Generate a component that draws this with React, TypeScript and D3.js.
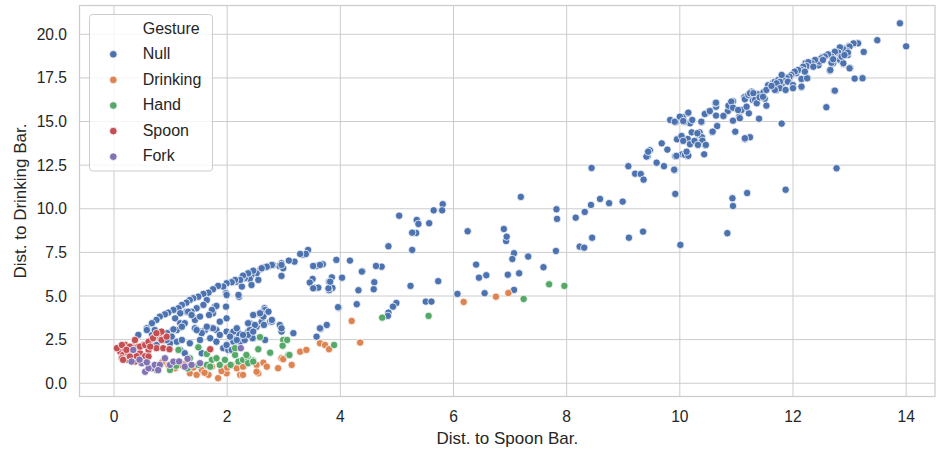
import React from "react";
import * as d3 from "d3";

type P = [number, number];

const gestures = ["Null", "Drinking", "Hand", "Spoon", "Fork"];
const colors = ["#4C72B0", "#DD8452", "#55A868", "#C44E52", "#8172B3"];
const xTicks = [0, 2, 4, 6, 8, 10, 12, 14];
const yTicks = [0, 2.5, 5, 7.5, 10, 12.5, 15, 17.5, 20];
const xLabel = "Dist. to Spoon Bar.";
const yLabel = "Dist. to Drinking Bar.";
const legendTitle = "Gesture";

const nullPts: P[] = [
  [13.89,20.63],[14.0,19.31],[13.49,19.66],[13.25,18.99],[13.09,17.46],[13.22,17.48],[13.01,18.05],[12.73,16.77],[12.59,15.82],[12.77,12.32],[11.80,14.88],[11.87,11.09],[11.19,10.9],[10.93,10.6],[10.94,10.16],[10.84,8.6],[10.01,7.93],[9.92,10.85],[9.91,12.22],[9.72,12.44],[9.59,12.64],[9.09,12.44],[9.21,12.01],[9.31,11.99],[9.36,11.67],[9.43,12.99],[9.47,13.35],[9.68,13.75],[9.78,13.39],[9.83,15.09],[9.93,14.97],[10.06,15.26],[10.15,15.47],[10.18,14.9],[10.08,14.99],[9.95,13.98],[10.04,13.12],[10.13,13.03],[9.92,13.01],[10.14,14.0],[10.21,14.38],[10.26,13.85],[10.34,14.23],[10.35,14.38],[10.39,14.1],[10.45,13.64],[10.43,13.12],[10.33,13.75],
  [10.39,14.97],[10.46,15.47],[10.51,15.56],[10.64,15.34],[10.64,15.85],[10.63,16.05],[10.57,14.4],[10.66,14.74],[10.78,15.34],[10.85,15.6],[10.86,15.91],[10.94,16.16],[10.94,15.05],[10.98,14.42],[11.05,15.28],[11.09,15.66],[11.14,16.39],[11.15,13.98],[11.24,14.1],[11.22,15.47],[11.29,16.23],[11.27,16.71],[11.38,16.56],[11.4,15.16],[11.48,16.68],[11.53,15.91],[11.5,16.31],[11.56,17.08],[11.65,17.23],[11.73,17.36],[11.8,17.65],[11.81,17.19],[11.9,17.31],[11.94,17.51],[12.0,16.96],[12.06,17.77],[12.15,17.42],[12.18,18.05],[12.26,17.48],[12.15,16.96],[12.22,18.34],[12.3,18.18],[12.37,18.41],[12.45,18.22],[12.52,18.7],[12.47,18.51],[12.64,18.85],[12.71,18.81],[12.79,18.93],[12.84,19.23],[12.94,19.2],[12.99,19.33],[13.08,19.46],[13.15,19.5],[12.65,17.91],[12.83,18.53],[12.89,18.3],[12.97,18.81],[12.71,18.34],
  [9.9,12.24],[9.94,13.03],[10.09,13.09],[10.15,13.04],[10.12,13.27],[10.03,14.17],[10.06,13.89],[10.18,13.7],[10.26,13.89],[10.31,14.33],[10.4,13.9],[10.46,13.66],[10.32,13.66],[9.91,14.99],[10.0,15.28],[10.06,15.03],[10.15,15.51],[10.22,15.09],[10.38,14.99],[10.44,15.43],[10.53,15.6],[10.64,16.08],[10.58,14.42],[10.77,15.32],[10.91,16.14],[10.94,15.79],[11.03,15.66],[11.06,15.19],[11.15,16.28],[11.18,15.85],[11.21,16.52],[11.24,16.62],[11.3,16.62],[11.33,16.24],[11.36,16.05],[11.41,16.39],[11.47,16.42],[11.53,16.81],[11.65,17.09],[11.71,16.81],[11.68,17.28],[11.74,17.38],[11.15,14.04],
  [13.15,19.48],[13.07,19.48],[13.0,19.29],[12.96,19.04],[12.89,19.14],[12.83,19.25],[12.8,18.95],[12.74,19.0],[12.68,18.72],[12.62,18.85],[12.56,18.72],[12.5,18.62],[12.47,18.43],[12.39,18.53],[12.33,18.34],[12.27,18.4],[12.24,18.18],[12.18,18.14],[12.15,17.95],[12.09,17.95],[12.03,17.86],[11.97,17.67],[11.94,17.57],[11.89,17.48],[11.83,17.38],[11.77,17.28],[11.71,17.19],[11.8,17.67],[11.91,17.28],[12.0,17.09],[12.15,17.44],[12.25,17.48],[11.77,16.91],[11.68,16.81],[11.87,16.81],[12.0,16.91],[12.15,17.0],[13.0,18.05],[12.89,18.34],[12.68,18.37],[12.66,17.95],[12.86,18.72],[12.97,18.95],[13.23,17.48],[12.74,16.77],[11.62,17.04],[12.71,18.57],[12.53,18.53],[12.36,18.14],[12.21,17.86],[12.91,18.81],
  [8.44,12.34],[9.41,12.99],[9.44,13.27],[7.19,10.68],[8.59,10.56],[8.75,10.32],[8.99,10.41],[8.43,10.22],[8.32,9.82],[8.16,9.49],[7.82,9.97],[7.83,9.42],[8.45,8.34],[8.23,7.83],[8.31,7.77],[9.1,8.34],[9.35,8.69],[7.81,7.58],[7.59,6.65],[7.32,7.26],[7.07,7.45],[7.04,7.12],[6.93,8.15],[6.94,8.4],[6.89,8.84],[7.16,6.3],[6.96,6.22],[7.07,5.35],[6.55,5.16],[6.58,6.19],[6.45,6.05],[6.4,6.8],[6.25,8.71],[6.07,5.12],[5.81,10.26],[5.8,9.91],[5.65,9.91],[5.57,9.17],[5.35,9.36],[5.38,9.13],[5.34,8.61],[5.27,8.63],[5.27,7.64],[5.04,9.6],[4.85,7.85],[5.73,5.85],[5.24,5.58],[5.51,4.68],[5.61,4.68],[4.99,4.6],[4.93,4.39],[4.85,4.05],[4.84,3.86],[4.73,6.68],[4.63,6.72],[4.6,5.79],[4.59,5.39],[4.39,6.42],[4.32,5.33],[4.29,4.53],[4.17,7.03],[4.03,6.05],[3.97,4.33],[3.93,7.07],[3.85,6.07],[3.8,5.82],[3.86,5.46],[3.8,5.33],[3.69,6.82],[3.58,6.72],[3.52,6.72],[3.51,5.98],[3.46,5.77],[3.55,5.48],[3.61,5.48],[3.76,3.34],[3.65,3.11],[3.58,2.67],[3.43,7.64],[3.34,7.37],
  [3.39,7.41],[3.29,7.41],[3.19,6.97],[3.09,7.03],[2.96,6.88],[2.92,6.72],[2.99,6.59],[2.81,6.78],[2.74,6.72],[2.67,6.65],[2.59,6.53],[2.52,6.3],[2.43,6.21],[2.4,5.98],[2.31,6.02],[2.26,6.05],[2.17,5.82],[2.08,5.82],[2.55,5.92],[2.43,5.63],[2.26,5.54],[2.96,6.15],[2.21,4.96],[2.66,4.3],[3.52,5.44],
  [2.96,6.78],[2.79,6.78],[2.7,6.68],[2.61,6.59],[2.46,6.45],[2.37,6.3],[2.28,6.17],[2.23,5.92],[2.14,5.92],[2.08,5.79],[1.99,5.73],[1.93,5.54],[1.84,5.58],[1.75,5.39],[1.67,5.19],[1.58,5.12],[1.49,4.96],[1.4,4.87],[1.34,4.77],[1.28,4.62],[1.2,4.49],[1.14,4.3],[1.05,4.2],[0.96,4.05],[0.9,3.95],[0.81,3.82],[0.75,3.63],[0.67,3.44],[0.58,3.15],[0.43,2.77],
  [2.2,5.06],[1.98,5.16],[1.78,4.39],[1.75,4.01],[1.64,4.77],[1.58,4.49],[1.46,4.3],[1.43,3.72],[1.37,4.1],[1.28,4.1],[1.17,4.01],[1.08,3.72],[1.17,3.44],[1.11,3.05],[1.02,2.96],[0.94,2.87],[0.9,2.48],[0.99,2.29],[0.81,2.58],[0.75,2.19],[0.67,2.77],[0.58,3.05],[0.72,3.05],[1.43,3.15],[1.52,2.96],[1.61,3.05],[1.73,3.15],[1.81,3.05],[1.87,2.77],[1.99,2.96],[2.08,2.67],[2.14,2.38],[2.23,2.38],[2.34,2.67],[2.46,2.58],[2.37,2.96],[2.52,3.24],[2.61,3.53],[2.67,4.2],[2.61,4.01],[2.76,3.53],[2.93,3.34],[2.96,2.96],[3.17,2.87],[3.64,6.78],[3.79,5.44],[3.82,5.82],[4.38,6.4],[3.64,3.15],[1.93,2.01],[2.02,1.91],
  [3.96,4.36],[2.58,3.95],[2.4,3.44],[2.49,3.34],[2.65,3.34],[2.79,3.53],[2.4,3.05],[2.31,2.48],[2.2,2.87],[2.08,2.87],[2.11,2.38],[2.45,2.58],[2.37,2.77],
  [1.99,5.06],[1.98,4.39],[1.81,4.43],[1.73,4.2],[1.68,3.91],[1.87,3.53],[1.75,3.15],[1.64,3.24],[1.55,2.87],[1.46,3.05],[1.43,3.63],[1.52,3.82],[1.31,4.1],[1.37,3.91],[1.25,3.44],[1.2,3.24],[1.05,3.09],[1.02,2.67],[1.99,3.72],[2.11,2.96],[2.17,3.15],[2.05,2.67],[2.17,2.48],[2.28,2.77],[2.37,3.44],[2.46,2.96],[2.67,2.48],[2.64,3.82],[2.73,4.1],[2.79,3.63],[2.58,4.01],[2.46,3.91],[2.96,3.15],
  [0.93,2.48],[1.11,2.38],[1.2,2.48],[1.34,2.29],[1.52,2.48],[1.7,2.58],[1.81,2.38],[1.99,2.19],[2.08,1.91],[1.17,1.91],[1.25,1.72],[1.55,1.72]
];

const drinkingPts: P[] = [
  [0.96,1.05],[1.08,0.86],[1.17,1.05],[1.34,0.57],[1.46,0.48],[1.55,0.76],[1.67,0.48],[1.73,0.95],[1.84,0.29],[1.99,0.57],[2.08,1.05],[2.17,0.86],[2.23,0.48],[2.26,1.15],[2.31,1.05],[2.52,1.05],[2.55,0.57],[2.9,0.86],[2.96,1.43],[3.14,1.05],[3.29,1.81],[3.4,1.91],[3.64,2.29],[3.73,2.19],[3.8,1.95],[4.2,3.57],[4.35,2.33],[2.28,0.95],[2.28,0.48],[2.52,0.66],[2.64,1.18],[2.7,0.95],[2.99,1.38],[6.97,5.17],[6.75,4.96],[6.18,4.66],[1.25,1.1],[1.4,0.9],[1.6,0.6],[1.9,0.7],[0.85,1.2],[2.0,0.9]
];

const handPts: P[] = [
  [1.14,1.91],[1.49,2.06],[1.34,1.43],[1.64,1.68],[1.73,1.34],[1.81,1.43],[1.87,1.05],[1.96,1.34],[2.14,1.62],[2.2,1.24],[2.28,1.34],[2.37,1.43],[2.46,1.3],[2.58,2.64],[2.55,1.95],[2.76,1.75],[2.99,2.48],[3.08,1.62],[3.89,2.19],[1.49,1.05],[1.64,1.05],[0.75,0.76],[0.99,0.76],[2.06,1.05],[2.14,2.01],[2.34,1.62],[2.98,2.15],[3.06,2.48],[3.1,1.62],[4.74,3.76],[2.37,1.15],[2.46,1.24],[5.56,3.86],[7.69,5.67],[7.96,5.58],[7.24,4.83],[1.3,0.85],[1.7,0.95],[1.1,1.0]
];

const spoonPts: P[] = [
  [0.11,1.81],[0.19,1.91],[0.16,1.62],[0.25,1.72],[0.31,1.43],[0.37,2.38],[0.34,2.01],[0.43,2.1],[0.46,1.72],[0.52,2.19],[0.61,1.91],[0.64,2.29],[0.67,2.52],[0.72,2.67],[0.81,2.87],[0.84,2.48],[0.93,2.67],[0.75,2.01],[0.87,2.01],[0.98,1.95],[0.37,1.24],[0.25,1.34],[0.14,1.43],[1.7,1.95],[0.2,2.2],[0.28,2.1],[0.55,1.55],[0.4,1.55],
  [0.05,2.01],[0.14,2.19],[0.22,1.91],[0.37,2.48],[0.46,2.1],[0.55,2.19],[0.61,2.38],[0.69,2.58],[0.84,2.96],[0.75,2.87],[0.64,2.1],[0.61,1.53],[0.28,1.53],[0.16,1.34],[0.98,1.95]
];

const forkPts: P[] = [
  [0.34,1.91],[0.31,1.24],[0.49,1.15],[0.55,0.66],[0.67,0.86],[0.72,1.05],[0.81,1.05],[0.9,1.43],[0.99,1.05],[1.05,1.24],[1.25,0.95],[1.37,1.05],[1.52,1.15],[2.24,2.01],[0.61,0.86],[0.45,1.35],[0.58,1.2],[0.78,0.75],[1.15,1.25],[1.3,1.4]
];

const series: P[][] = [nullPts, drinkingPts, handPts, spoonPts, forkPts];

const W = 937;
const H = 449;
const left = 79.5, right = 935, top = 5.5, bottom = 396.5;
const FONT = "'Liberation Sans', Arial, sans-serif";
const TXT = "#262626";
const GRID = "#cccccc";

export default function App() {
  const x = d3.scaleLinear().domain([-0.61, 14.51]).range([left, right]);
  const y = d3.scaleLinear().domain([-0.76, 21.65]).range([bottom, top]);
  const fmtY = d3.format(".1f");

  return (
    <svg width={W} height={H} style={{ position: "absolute", left: 0, top: 0, background: "#fff" }} fontFamily={FONT}>
      <rect x={0} y={0} width={W} height={H} fill="#fff" />
      {xTicks.map((t) => (
        <line key={"gx" + t} x1={x(t)} x2={x(t)} y1={top} y2={bottom} stroke={GRID} strokeWidth={1} />
      ))}
      {yTicks.map((t) => (
        <line key={"gy" + t} x1={left} x2={right} y1={y(t)} y2={y(t)} stroke={GRID} strokeWidth={1} />
      ))}
      <rect x={left} y={top} width={right - left} height={bottom - top} fill="none" stroke={GRID} strokeWidth={1.25} />
      {series.map((pts, si) => (
        <g key={"s" + si}>
          {pts.map((p, i) => (
            <circle key={i} cx={x(p[0])} cy={y(p[1])} r={3.7} fill={colors[si]} stroke="#fff" strokeWidth={0.75} />
          ))}
        </g>
      ))}
      {xTicks.map((t) => (
        <text key={"tx" + t} x={x(t)} y={422} textAnchor="middle" fontSize={15.6} fill={TXT}>
          {t}
        </text>
      ))}
      {yTicks.map((t) => (
        <text key={"ty" + t} x={67} y={y(t)} textAnchor="end" dominantBaseline="central" fontSize={15.6} fill={TXT}>
          {fmtY(t)}
        </text>
      ))}
      <text x={(left + right) / 2} y={444} textAnchor="middle" fontSize={17} fill={TXT}>
        {xLabel}
      </text>
      <text transform={`translate(26,${(top + bottom) / 2}) rotate(-90)`} textAnchor="middle" fontSize={17} fill={TXT}>
        {yLabel}
      </text>
      <g>
        <rect x={89.5} y={14.5} width={123} height={156.5} rx={3} fill="#fff" fillOpacity={0.8} stroke={GRID} strokeWidth={1} />
        <text x={142.7} y={28.5} dominantBaseline="central" fontSize={16} fill={TXT}>
          {legendTitle}
        </text>
        {gestures.map((g, i) => (
          <g key={g}>
            <circle cx={113.3} cy={54.3 + i * 25.6} r={3.8} fill={colors[i]} stroke="#fff" strokeWidth={0.75} />
            <text x={142.7} y={53.5 + i * 25.6} dominantBaseline="central" fontSize={16} fill={TXT}>
              {g}
            </text>
          </g>
        ))}
      </g>
    </svg>
  );
}
